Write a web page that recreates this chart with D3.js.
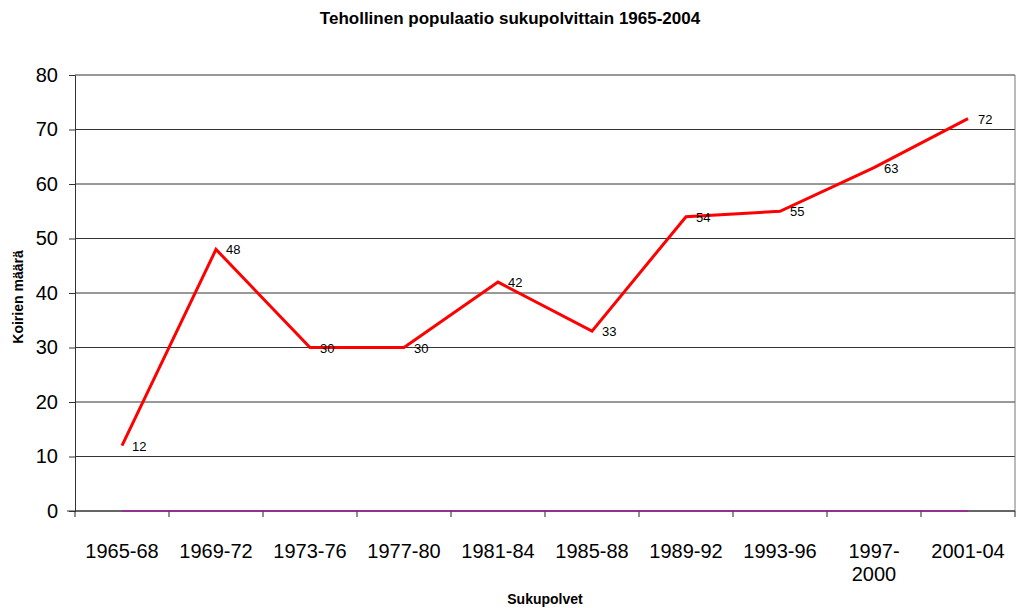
<!DOCTYPE html>
<html>
<head>
<meta charset="utf-8">
<script src="https://cdn.jsdelivr.net/npm/d3@7"></script>
<style>
  body { margin: 0; background: #fff; }
  svg { font-family: "Liberation Sans", Arial, sans-serif; }
</style>
</head>
<body>
<script>
const w = 1017;
const h = 608;

// data
const periods = ["1965-68", "1969-72", "1973-76", "1977-80", "1981-84",
                 "1985-88", "1989-92", "1993-96", "1997-2000", "2001-04"];
const dogCounts = [12, 48, 30, 30, 42, 33, 54, 55, 63, 72];
const zeroSeries = [0, 0, 0, 0, 0, 0, 0, 0, 0, 0];
const yTicks = [0, 10, 20, 30, 40, 50, 60, 70, 80];

const margin = {top: 75, right: 2, bottom: 97, left: 75};

const svg = d3.select("body").append("svg")
    .attr("width", w)
    .attr("height", h);

const x = d3.scaleBand()
    .domain(periods)
    .range([margin.left, w - margin.right]);

const y = d3.scaleLinear()
    .domain([0, 80])
    .range([h - margin.bottom, margin.top]);

// gridlines
svg.append("g")
    .selectAll("line")
    .data(yTicks)
    .join("line")
    .attr("x1", margin.left)
    .attr("x2", w - margin.right)
    .attr("y1", d => y(d))
    .attr("y2", d => y(d))
    .attr("stroke", "#333")
    .attr("stroke-width", 1);

// right border of plot area
svg.append("line")
    .attr("x1", w - margin.right).attr("x2", w - margin.right)
    .attr("y1", margin.top).attr("y2", h - margin.bottom)
    .attr("stroke", "#777");

// y axis
const yAxis = svg.append("g")
    .attr("transform", `translate(${margin.left},0)`)
    .call(d3.axisLeft(y).tickValues(yTicks).tickSize(6).tickPadding(11));
yAxis.select(".domain").attr("stroke", "#333");
yAxis.selectAll(".tick line").attr("stroke", "#333");
yAxis.selectAll("text")
    .attr("font-size", 20)
    .attr("font-family", "Liberation Sans, Arial, sans-serif")
    .attr("fill", "#000");

// x axis with ticks at category boundaries
const xAxisG = svg.append("g")
    .attr("transform", `translate(0,${h - margin.bottom})`);
xAxisG.append("line")
    .attr("x1", margin.left - 8).attr("x2", w - margin.right)
    .attr("stroke", "#333");
xAxisG.selectAll("line.tk")
    .data(periods.concat(["end"]))
    .join("line")
    .attr("class", "tk")
    .attr("x1", (d, i) => margin.left + i * x.step())
    .attr("x2", (d, i) => margin.left + i * x.step())
    .attr("y1", 0).attr("y2", 6)
    .attr("stroke", "#222");

const xl = xAxisG.selectAll("text.lbl")
    .data(periods)
    .join("text")
    .attr("class", "lbl")
    .attr("x", d => x(d) + x.bandwidth() / 2)
    .attr("y", 47)
    .attr("text-anchor", "middle")
    .attr("font-size", 20)
    .attr("fill", "#000");
xl.each(function(d) {
    const t = d3.select(this);
    if (d.length > 7) {
        const parts = [d.slice(0, 5), d.slice(5)];
        parts.forEach((p, i) => t.append("tspan")
            .attr("x", x(d) + x.bandwidth() / 2)
            .attr("dy", i === 0 ? 0 : 23)
            .text(p));
    } else {
        t.text(d);
    }
});

// line generator
const line = d3.line()
    .x((d, i) => x(periods[i]) + x.bandwidth() / 2)
    .y(d => y(d));

svg.append("path")
    .datum(zeroSeries)
    .attr("d", line)
    .attr("fill", "none")
    .attr("stroke", "#a020a0")
    .attr("stroke-width", 1.5);

svg.append("path")
    .datum(dogCounts)
    .attr("d", line)
    .attr("fill", "none")
    .attr("stroke", "#ff0000")
    .attr("stroke-width", 3);

// data labels
svg.append("g")
    .selectAll("text")
    .data(dogCounts)
    .join("text")
    .attr("x", (d, i) => x(periods[i]) + x.bandwidth() / 2 + 10)
    .attr("y", d => y(d) + 5)
    .attr("font-size", 13)
    .attr("fill", "#000")
    .text(d => d);

// title
svg.append("text")
    .attr("x", 510)
    .attr("y", 24)
    .attr("text-anchor", "middle")
    .attr("font-size", 17)
    .attr("font-weight", "bold")
    .text("Tehollinen populaatio sukupolvittain 1965-2004");

// axis titles
svg.append("text")
    .attr("x", 545)
    .attr("y", 604)
    .attr("text-anchor", "middle")
    .attr("font-size", 14)
    .attr("font-weight", "bold")
    .text("Sukupolvet");

svg.append("text")
    .attr("transform", `translate(23,297) rotate(-90)`)
    .attr("text-anchor", "middle")
    .attr("font-size", 14)
    .attr("font-weight", "bold")
    .text("Koirien määrä");
</script>
</body>
</html>
